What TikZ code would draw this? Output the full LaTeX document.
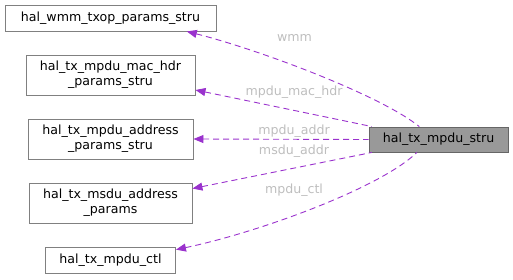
\documentclass[tikz,border=0pt]{standalone}
\usepackage{fontspec}
\setmainfont{DejaVu Sans}
\usetikzlibrary{arrows.meta}
\definecolor{edgepurple}{HTML}{9A32CD}
\definecolor{labelgray}{HTML}{BEBEBE}
\definecolor{boxborder}{HTML}{808080}
\tikzset{
  box/.style={draw=boxborder, line width=0.9pt, fill=white, inner sep=1pt, align=center,
    font=\fontsize{12.6}{15}\selectfont},
  mainbox/.style={box, fill=boxborder!80, draw=boxborder!80!black},
  member/.style={draw=edgepurple, line width=0.9pt, dash pattern=on 6pt off 4pt,
    {Triangle[length=10pt,width=8pt]}-},
  lbl/.style={text=labelgray, inner sep=0pt, font=\fontsize{12.6}{14}\selectfont}
}
\begin{document}
\begin{tikzpicture}[x=1pt, y=-1pt]
  \useasboundingbox (0,0) rectangle (513,279);
  \node[box, minimum width=211pt, minimum height=26pt] (wmm) at (110.5,18) {hal\_wmm\_txop\_params\_stru};
  \node[box, minimum width=169pt, minimum height=40pt] (machdr) at (110.5,75) {hal\_tx\_mpdu\_mac\_hdr\\\_params\_stru};
  \node[box, minimum width=165pt, minimum height=40pt] (mpduaddr) at (110.5,139) {hal\_tx\_mpdu\_address\\\_params\_stru};
  \node[box, minimum width=163pt, minimum height=40pt] (msduaddr) at (110.5,203) {hal\_tx\_msdu\_address\\\_params};
  \node[box, minimum width=130pt, minimum height=26pt] (ctl) at (110.5,260) {hal\_tx\_mpdu\_ctl};
  \node[mainbox, minimum width=139pt, minimum height=25pt] (main) at (438.5,139.5) {hal\_tx\_mpdu\_stru};
  % member edges
  \draw[member] (wmm.350) .. controls (260,50) and (380,95) .. (main.146);
  \draw[member] (machdr.350) -- (main.169);
  \draw[member] (mpduaddr.east) -- (main.west);
  \draw[member] (msduaddr.10) -- (main.191);
  \draw[member] (ctl.9) .. controls (260,232) and (380,188) .. (main.211);
  % labels
  \node[lbl] (lwmm) at (294.5,38) {wmm};
  \node[lbl] (lmachdr) at (294,92) {mpdu\_mac\_hdr};
  \node[lbl] (lmpduaddr) at (294,131) {mpdu\_addr};
  \node[lbl] (lmsduaddr) at (294,151) {msdu\_addr};
  \node[lbl] (lctl) at (294,190) {mpdu\_ctl};
\end{tikzpicture}
\end{document}
